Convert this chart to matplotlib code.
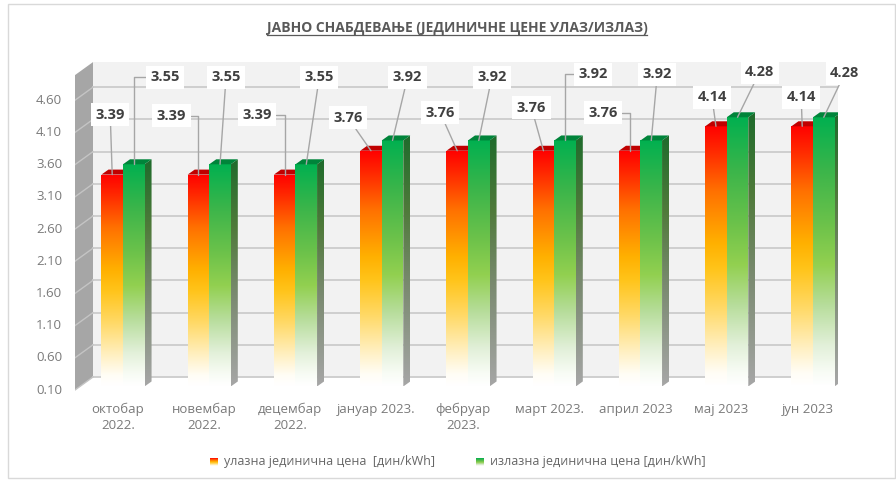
import matplotlib
matplotlib.use('Agg')
import matplotlib.pyplot as plt
import numpy as np
from matplotlib.colors import LinearSegmentedColormap
from matplotlib.patches import Polygon, Rectangle

plt.rcParams['font.family'] = ['Open Sans', 'DejaVu Sans']

# --- podaci ---
months = ['октобар\n2022.', 'новембар\n2022.', 'децембар\n2022.', 'јануар 2023.',
          'фебруар\n2023.', 'март 2023.', 'април 2023', 'мај 2023', 'јун 2023']
ulazna = [3.39, 3.39, 3.39, 3.76, 3.76, 3.76, 3.76, 4.14, 4.14]
izlazna = [3.55, 3.55, 3.55, 3.92, 3.92, 3.92, 3.92, 4.28, 4.28]
y_ticks = [0.10, 0.60, 1.10, 1.60, 2.10, 2.60, 3.10, 3.60, 4.10, 4.60]
title = 'ЈАВНО СНАБДЕВАЊЕ (ЈЕДИНИЧНЕ ЦЕНЕ УЛАЗ/ИЗЛАЗ)'
legend_labels = ['улазна јединична цена  [дин/kWh]', 'излазна јединична цена [дин/kWh]']

# pomeraji etiketa (pikseli od vrha stubca) i vrsta linije: s-prava, l/r-izlomljena
red_off = [(-2, 60, 's'), (-27, 59, 'r'), (-28, 60, 'r'), (-23, 33, 's'), (-17, 38, 's'),
           (-12, 43, 's'), (-27, 38, 'r'), (-4, 29, 's'), (-1, 29, 's')]
green_off = [(31, 87, 'l'), (6, 87, 's'), (13, 87, 's'), (15, 63, 's'), (13, 63, 's'),
             (28, 66, 'l'), (6, 66, 's'), (22, 45, 's'), (21, 44, 's')]

red_cmap = LinearSegmentedColormap.from_list('r', [
    (0, '#ffffff'), (0.05, '#fffdf5'), (0.15, '#ffefbf'), (0.3, '#ffd966'),
    (0.45, '#ffc41a'), (0.55, '#ffb000'), (0.75, '#ff7000'), (0.9, '#ff2a00'), (1, '#ff0000')])
green_cmap = LinearSegmentedColormap.from_list('g', [
    (0, '#ffffff'), (0.05, '#f8fcf5'), (0.15, '#e2f0d9'), (0.3, '#b7dd9b'),
    (0.45, '#92d050'), (0.6, '#6cc24a'), (0.8, '#3bb54a'), (1, '#00b050')])
side_cmap = LinearSegmentedColormap.from_list('s', [
    (0, '#a6a6a6'), (0.4, '#7a8a70'), (0.7, '#4f7a3a'), (1, '#1e6b2c')])

PX, PY = 86.25, 64.4          # pikseli po jedinici
WX, WY = 18 / PX, 13 / PY     # dubina zida
DX, DY = 7 / PX, 5 / PY       # dubina stubca
BW = 0.25
X0, X1 = -0.5565, 8.29
Y0, YTOP = 0.1, 4.99
SHIFT = 0.055
TXT = '#7a7a7a'

fig = plt.figure(figsize=(8.96, 4.8), dpi=100)
bg = fig.add_axes([0, 0, 1, 1])
bg.set_xlim(0, 896)
bg.set_ylim(480, 0)
bg.axis('off')
bg.add_patch(Rectangle((8, 4), 887, 474, fill=False, ec='#d9d9d9', lw=1))

ax = fig.add_axes([75 / 896, (480 - 392) / 480, (838 - 75) / 896, (392 - 55) / 480])
ax.axis('off')

# zidovi
ax.add_patch(Rectangle((X0 + WX, Y0 + WY), X1 - X0 - WX, YTOP - Y0, fc='#f2f2f2', ec='none', zorder=0))
ax.add_patch(Polygon([(X0, Y0), (X0, YTOP), (X0 + WX, YTOP + WY), (X0 + WX, Y0 + WY)],
                     fc='#a6a6a6', ec='none', zorder=0.5))
for t in y_ticks:
    ax.plot([X0 + WX, X1], [t + WY, t + WY], color='#cccccc', lw=1.3, zorder=1)
    ax.plot([X0, X0 + WX], [t, t + WY], color='#c4c4c4', lw=1.0, zorder=1)
    ax.text(X0 - 0.15, t, f'{t:.2f}', ha='right', va='center', fontsize=9.5,
            color=TXT, clip_on=False)


def grad(verts, cmap, lo, hi, z):
    poly = Polygon(verts, closed=True, fc='none', ec='none')
    ax.add_patch(poly)
    xs = [v[0] for v in verts]
    im = ax.imshow(np.linspace(0, 1, 256).reshape(-1, 1), cmap=cmap, origin='lower',
                   aspect='auto', extent=[min(xs), max(xs), lo, hi], zorder=z,
                   interpolation='bilinear')
    im.set_clip_path(poly)


def bar(xl, val, cmap, topc, side, z):
    base, top = Y0 + SHIFT, val + SHIFT
    xr = xl + BW
    grad([(xl, base), (xr, base), (xr, top), (xl, top)], cmap, base, top, z)
    if side:
        grad([(xr, base), (xr, top), (xr + DX, top + DY), (xr + DX, base + DY)],
             side_cmap, base, top + DY, z)
    ax.add_patch(Polygon([(xl, top), (xr, top), (xr + DX, top + DY), (xl + DX, top + DY)],
                         fc=topc, ec='none', zorder=z + 0.1))


def label(x, val, off):
    kind = off[2]
    rel = {'s': (0.5, 0.5), 'l': (0, 0.5), 'r': (1, 0.5)}[kind]
    conn = 'arc3' if kind == 's' else 'angle,angleA=0,angleB=90,rad=0'
    ax.annotate(f'{val:.2f}', xy=(x, val + SHIFT), xytext=off[:2], textcoords='offset pixels',
                ha='center', va='center', fontsize=10.5, fontweight='bold', color='#404040',
                bbox=dict(boxstyle='square,pad=0.3', fc='white', ec='none'),
                arrowprops=dict(arrowstyle='-', color='#a6a6a6', lw=1, connectionstyle=conn,
                                relpos=rel, shrinkA=0, shrinkB=0),
                zorder=20)


for i in range(len(months)):
    bar(i - BW, ulazna[i], red_cmap, '#c00000', False, 3 + i)
    bar(i, izlazna[i], green_cmap, '#00843a', True, 3.3 + i)
    label(i - BW / 2, ulazna[i], red_off[i])
    label(i + BW / 2, izlazna[i], green_off[i])
    ax.text(i - 0.06, Y0 - 0.2, months[i], ha='center', va='top', fontsize=9.5,
            color=TXT, linespacing=1.25, clip_on=False)

ax.set_xlim(X0, X1)
ax.set_ylim(0.069, 5.302)

# naslov
t = bg.text(457, 32, title, ha='center', va='baseline', fontsize=10, fontweight='bold',
            color='#595959')

# legenda
for k, (lab, cm, mx) in enumerate(zip(legend_labels, [red_cmap, green_cmap], [210, 476])):
    bg.imshow(np.linspace(0.4, 1, 64).reshape(-1, 1), cmap=cm, origin='lower', aspect='auto',
              extent=[mx, mx + 8, 466, 458], interpolation='bilinear')
    bg.text(mx + 14, 462, lab, ha='left', va='center', fontsize=9, color='#666666')
bg.set_xlim(0, 896)
bg.set_ylim(480, 0)

fig.canvas.draw()
bb = t.get_window_extent()
bg.plot([bb.x0, bb.x1], [34.5, 34.5], color='#595959', lw=0.9)

fig.savefig('out.png', dpi=100)
